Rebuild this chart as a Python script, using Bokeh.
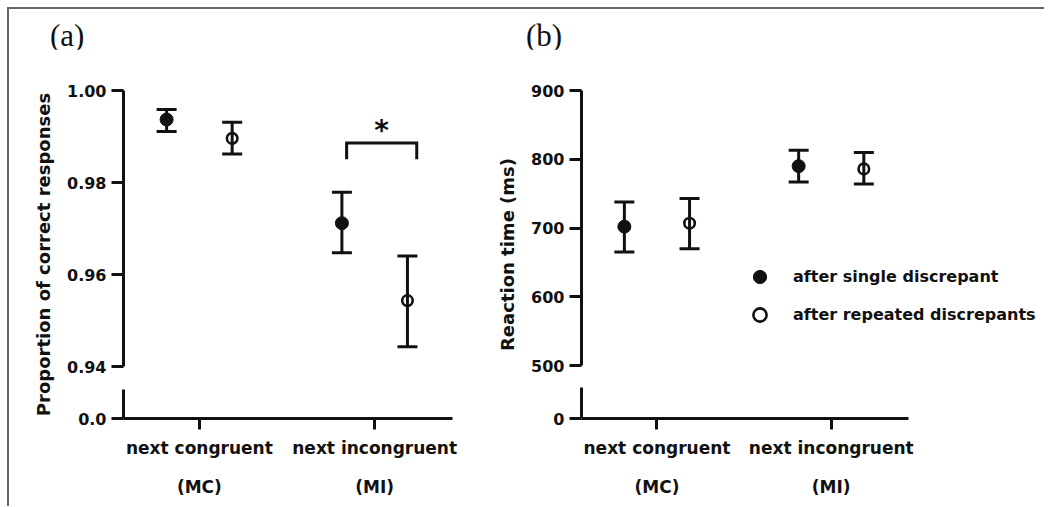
from bokeh.plotting import figure
from bokeh.models import (ColumnDataSource, Whisker, TeeHead, FixedTicker, Range1d,
                          Legend, LegendItem, PrintfTickFormatter, Div)
from bokeh.layouts import row, column
from bokeh.embed import file_html
from bokeh.resources import INLINE
from bokeh.core.properties import value

# ---------------- data ----------------
conditions = ["next congruent\n(MC)", "next incongruent\n(MI)"]
cond_pos = [1, 2]
series = ["after single discrepant", "after repeated discrepants"]
panel_tags = ["(a)", "(b)"]

# (a) proportion of correct responses
acc_single = [0.9937, 0.9712]
acc_single_lo = [0.9911, 0.9648]
acc_single_hi = [0.9959, 0.9779]
acc_repeat = [0.9896, 0.9544]
acc_repeat_lo = [0.9862, 0.9444]
acc_repeat_hi = [0.9931, 0.9641]
acc_ticks = [0.94, 0.96, 0.98, 1.00]

# (b) reaction time (ms)
rt_single = [702, 790]
rt_single_lo = [665, 767]
rt_single_hi = [738, 813]
rt_repeat = [707, 786]
rt_repeat_lo = [670, 764]
rt_repeat_hi = [743, 810]
rt_ticks = [500, 600, 700, 800, 900]

# significance bracket on panel (a), next incongruent
sig_x = [1.84, 2.24]
sig_y = [0.9851, 0.9886]
sig_text = "*"

# ---------------- style ----------------
FONT = "DejaVu Sans"
INK = "#111111"
OFFSET = 0.187
X_START, X_AXIS_END = 0.567, 2.444
FIG_H = 457


def make_panel(ylabel, ticks, fmt, y_start, y_end, zero_label, dash,
               single, s_lo, s_hi, rep, r_lo, r_hi, width, mbl, mbr, mbb, x_end):
    p = figure(width=width, height=FIG_H, output_backend="svg", toolbar_location=None,
               x_range=Range1d(X_START, x_end), y_range=Range1d(y_start, y_end),
               min_border_left=mbl, min_border_right=mbr,
               min_border_top=41, min_border_bottom=mbb)
    p.outline_line_color = None
    p.xgrid.visible = False
    p.ygrid.visible = False
    p.background_fill_color = "white"
    p.border_fill_color = "white"

    ya = p.yaxis[0]
    ya.ticker = FixedTicker(ticks=[y_start] + ticks)
    ya.formatter = PrintfTickFormatter(format=fmt)
    ya.major_label_overrides = {y_start: zero_label}
    ya.bounds = (y_start, y_end)
    ya.axis_line_width = 3
    ya.axis_line_color = INK
    ya.axis_line_dash = dash
    ya.major_tick_line_width = 3
    ya.major_tick_line_color = INK
    ya.major_tick_out = 12
    ya.major_tick_in = 0
    ya.minor_tick_line_color = None
    ya.major_label_standoff = 5
    ya.major_label_text_font = FONT
    ya.major_label_text_font_style = "bold"
    ya.major_label_text_font_size = "16px"
    ya.major_label_text_color = INK
    ya.axis_label = ylabel
    ya.axis_label_text_font = FONT
    ya.axis_label_text_font_style = "bold"
    ya.axis_label_text_font_size = "18px"
    ya.axis_label_text_color = INK
    ya.axis_label_standoff = 10

    xa = p.xaxis[0]
    xa.ticker = FixedTicker(ticks=cond_pos)
    xa.major_label_overrides = {c: lab for c, lab in zip(cond_pos, conditions)}
    xa.bounds = (X_START, X_AXIS_END)
    xa.axis_line_width = 3
    xa.axis_line_color = INK
    xa.major_tick_line_width = 3
    xa.major_tick_line_color = INK
    xa.major_tick_out = 11
    xa.major_tick_in = 0
    xa.minor_tick_line_color = None
    xa.major_label_standoff = 8
    xa.major_label_text_font = FONT
    xa.major_label_text_font_style = "bold"
    xa.major_label_text_font_size = "17px"
    xa.major_label_text_line_height = 1.95
    xa.major_label_text_color = INK

    renderers = []
    for vals, lo, hi, sign, filled in [(single, s_lo, s_hi, -1, True), (rep, r_lo, r_hi, 1, False)]:
        src = ColumnDataSource(dict(x=[c + sign * OFFSET for c in cond_pos], y=vals, lo=lo, hi=hi))
        w = Whisker(base="x", upper="hi", lower="lo", source=src, dimension="height",
                    line_width=3, line_color=INK,
                    upper_head=TeeHead(size=20, line_width=3, line_color=INK),
                    lower_head=TeeHead(size=20, line_width=3, line_color=INK))
        p.add_layout(w)
        if filled:
            r = p.scatter("x", "y", source=src, marker="circle", size=13,
                          fill_color=INK, line_color=INK, line_width=1)
        else:
            r = p.scatter("x", "y", source=src, marker="circle", size=10.5,
                          fill_color=None, line_color=INK, line_width=2.6)
        renderers.append(r)
    return p, renderers


p1, r1 = make_panel("Proportion of correct responses", acc_ticks, "%.2f",
                    0.9288, 1.0, "0.0", "29 23 400",
                    acc_single, acc_single_lo, acc_single_hi,
                    acc_repeat, acc_repeat_lo, acc_repeat_hi,
                    width=485, mbl=114, mbr=42, mbb=86, x_end=X_AXIS_END)

# significance bracket
p1.line(x=[sig_x[0], sig_x[0], sig_x[1], sig_x[1]], y=[sig_y[0], sig_y[1], sig_y[1], sig_y[0]],
        line_width=3, line_color=INK, line_join="miter")
p1.text(x=[sum(sig_x) / 2], y=[sig_y[1] + 0.0028], text=[sig_text],
        text_font=value(FONT), text_font_style="bold", text_font_size="28px",
        text_align="center", text_baseline="alphabetic", text_color=INK)

p2, r2 = make_panel("Reaction time (ms)", rt_ticks, "%d",
                    423, 900, "0", "31 22 400",
                    rt_single, rt_single_lo, rt_single_hi,
                    rt_repeat, rt_repeat_lo, rt_repeat_hi,
                    width=550, mbl=84, mbr=5, mbb=88, x_end=3.195)

legend = Legend(items=[LegendItem(label=series[0], renderers=[r2[0]]),
                       LegendItem(label=series[1], renderers=[r2[1]])],
                location=(162, 87), orientation="vertical",
                border_line_color=None, background_fill_alpha=0,
                padding=0, margin=0, spacing=5,
                glyph_width=33, glyph_height=33, label_height=33,
                label_standoff=17,
                label_text_font=FONT, label_text_font_style="bold",
                label_text_font_size="16px", label_text_color=INK)
p2.add_layout(legend)


def tag_div(text, width, pad_left):
    return Div(text=text, width=width, height=40, margin=0,
               styles={"font-family": "'Liberation Serif', serif", "font-size": "31px",
                       "line-height": "1", "color": INK,
                       "padding-left": f"{pad_left}px", "padding-top": "11px",
                       "box-sizing": "border-box"})


tags = row(tag_div(panel_tags[0], 485, 41), tag_div(panel_tags[1], 550, 32))

layout = column(tags, row(p1, p2),
                styles={"border-top": "2px solid #666666",
                        "border-left": "2px solid #666666",
                        "margin-top": "7px", "margin-left": "7px"})

open("out.html", "w").write(file_html(layout, INLINE))
